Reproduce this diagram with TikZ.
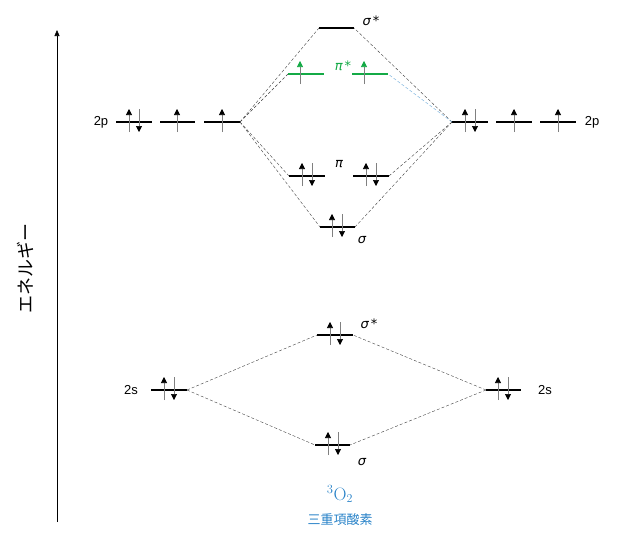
\documentclass[tikz,border=0pt]{standalone}
\usepackage{fontspec}
\setmainfont{Liberation Sans}
\newfontfamily\jpfont{Noto Sans CJK JP}
\newfontfamily\greekfont{DejaVu Sans}
\newfontfamily\lmfont{Latin Modern Roman}
\usetikzlibrary{arrows.meta}
\definecolor{orbgreen}{RGB}{20,170,70}
\definecolor{tblue}{RGB}{40,130,200}
\tikzset{
 level/.style={line width=2pt},
 corr/.style={densely dashed,line width=0.4pt,black!75},
 el/.style={line width=0.6pt,gray},
 lab/.style={font=\fontsize{13}{15}\selectfont},
 glab/.style={font=\greekfont\itshape\fontsize{13}{15}\selectfont},
}
\newcommand{\mylvl}[5][black]{%
 \coordinate (#2-l) at (#3,#5); \coordinate (#2-r) at (#4,#5);
 \draw[level,#1] (#2-l) -- (#2-r);}
\newcommand{\myup}[3][black]{\draw[el,arrows={-{Triangle[length=6pt,width=6pt,color=#1]}}] (#2,#3+10) -- (#2,#3-13);}
\newcommand{\mydn}[2]{\draw[el,arrows={-{Triangle[length=6pt,width=6pt,color=black]}}] (#1,#2-13) -- (#1,#2+10);}
\newcommand{\mypair}[2]{\myup{#1-5}{#2}\mydn{#1+5}{#2}}
\begin{document}
\begin{tikzpicture}[x=1pt,y=-1pt]
\useasboundingbox (0,0) rectangle (632,549);
% axis
\draw[line width=0.6pt,-{Triangle[length=6pt,width=5pt]}] (57,522) -- (57,30);
\node[font=\jpfont\fontsize{18}{20}\selectfont,rotate=90] (en) at (25,268) {エネルギー};
% 2p levels
\mylvl{la}{116}{152}{122}\mylvl{lb}{160}{195}{122}\mylvl{lc}{204}{240}{122}
\mylvl{ra}{452}{488}{122}\mylvl{rb}{496}{532}{122}\mylvl{rc}{540}{576}{122}
\mylvl{ss}{319}{354}{28}
\mylvl[orbgreen]{pa}{288}{324}{74}\mylvl[orbgreen]{pb}{352}{388}{74}
\mylvl{qa}{289}{325}{176}\mylvl{qb}{353}{389}{176}
\mylvl{s}{320}{355}{227}
% 2s
\mylvl{l2}{151}{187}{390}\mylvl{r2}{486}{521}{390}
\mylvl{t}{317}{353}{335}\mylvl{u}{315}{350}{445}
% correlation lines
\foreach \a in {ss-l,pa-l,qa-l,s-l} \draw[corr] (lc-r) -- (\a);
\foreach \a in {ss-r,qb-r,s-r} \draw[corr] (ra-l) -- (\a);
\draw[corr,tblue!70] (ra-l) -- (pb-r);
\draw[corr] (l2-r) -- (t-l); \draw[corr] (l2-r) -- (u-l);
\draw[corr] (r2-l) -- (t-r); \draw[corr] (r2-l) -- (u-r);
% electrons
\mypair{134}{122}\myup{177}{122}\myup{222}{122}
\mypair{470}{122}\myup{514}{122}\myup{558}{122}
\myup[orbgreen]{300}{74}\myup[orbgreen]{364}{74}
\mypair{307}{176}\mypair{371}{176}
\mypair{337}{227}
\mypair{169}{390}\mypair{503}{390}
\mypair{335}{335}\mypair{333}{445}
% labels
\node[lab] (l2p) at (101,122) {2p};
\node[lab] (r2p) at (592,122) {2p};
\node[lab] (l2s) at (131,390) {2s};
\node[lab] (r2s) at (545,390) {2s};
\node[glab] (n1) at (371,21) {σ\,*};
\node[glab,text=orbgreen] (n2) at (343,66) {π\,*};
\node[glab] (n3) at (339,164) {π};
\node[glab] (n4) at (362,240) {σ};
\node[glab] (n5) at (369,324) {σ\,*};
\node[glab] (n6) at (362,462) {σ};
\node[text=tblue,font=\lmfont\fontsize{18}{20}\selectfont] (o2) at (340,494) {\textsuperscript{3}O$_2$};
\node[text=tblue,font=\jpfont\fontsize{13}{15}\selectfont] (jp) at (340,520) {三重項酸素};
\end{tikzpicture}
\end{document}
